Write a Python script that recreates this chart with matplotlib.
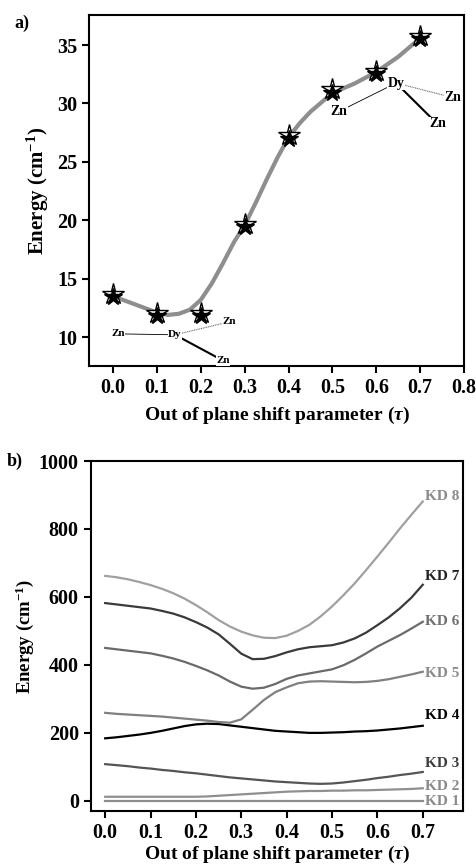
import numpy as np
import matplotlib
matplotlib.use("Agg")
import matplotlib.pyplot as plt
import matplotlib.transforms as mtransforms
from matplotlib.ticker import FormatStrFormatter

plt.rcParams['font.family'] = ['Liberation Serif', 'DejaVu Serif']
plt.rcParams['font.weight'] = 'bold'
plt.rcParams['axes.labelweight'] = 'bold'
plt.rcParams['mathtext.fontset'] = 'custom'
plt.rcParams['mathtext.rm'] = 'Liberation Serif:bold'
plt.rcParams['mathtext.bf'] = 'Liberation Serif:bold'
plt.rcParams['mathtext.it'] = 'Liberation Serif:italic:bold'

# panel a) data
tau = [0.0, 0.1, 0.2, 0.3, 0.4, 0.5, 0.6, 0.7]
barrier = [13.4, 11.8, 11.8, 19.4, 27.0, 30.9, 32.5, 35.5]
# smooth fitted curve
fit_tau = [0.0, 0.05, 0.1, 0.125, 0.15, 0.175, 0.2, 0.225, 0.25, 0.275, 0.3,
           0.325, 0.35, 0.375, 0.4, 0.425, 0.45, 0.475, 0.5, 0.55, 0.6, 0.65, 0.7]
fit_energy = [13.5, 12.8, 12.1, 11.9, 12.0, 12.35, 13.2, 14.6, 16.3, 18.1, 19.6,
              21.5, 23.5, 25.4, 27.1, 28.3, 29.3, 30.1, 30.9, 31.7, 32.7, 34.0, 35.6]

# schematic Dy-Zn3 fragments (label, tau, energy)
frag1 = [("Zn", 0.011, 10.28), ("Dy", 0.141, 10.2), ("Zn", 0.264, 11.3), ("Zn", 0.25, 8.0)]
frag2 = [("Zn", 0.514, 29.3), ("Dy", 0.645, 31.75), ("Zn", 0.775, 30.5), ("Zn", 0.739, 28.25)]

# panel b) data: Kramers doublets (cm-1)
kd_tau = [0.0, 0.025, 0.05, 0.075, 0.1, 0.125, 0.15, 0.175, 0.2, 0.225, 0.25, 0.275, 0.3,
          0.325, 0.35, 0.375, 0.4, 0.425, 0.45, 0.475, 0.5, 0.525, 0.55, 0.575, 0.6,
          0.625, 0.65, 0.675, 0.7]
kd1 = [0] * 29
kd2 = [12, 12, 12, 12, 12, 12, 12, 12, 12, 13, 15, 17, 19, 21, 23, 25, 27, 28, 29, 29,
       30, 30, 31, 31, 32, 33, 34, 35, 37]
kd3 = [108, 105, 102, 98, 95, 91, 88, 84, 81, 77, 73, 69, 66, 63, 60, 57, 55, 53, 51, 50,
       51, 54, 58, 62, 67, 71, 76, 80, 85]
kd4 = [184, 187, 191, 195, 200, 206, 213, 220, 225, 227, 226, 222, 218, 214, 210, 206, 204,
       202, 200, 200, 201, 202, 204, 205, 207, 210, 213, 217, 221]
kd5 = [259, 256, 254, 252, 250, 248, 245, 242, 239, 236, 232, 230, 240, 268, 297, 320, 334,
       346, 351, 352, 351, 350, 349, 350, 353, 358, 365, 372, 380]
kd6 = [450, 446, 442, 438, 434, 427, 419, 409, 397, 384, 369, 351, 336, 330, 333, 344, 359,
       369, 375, 381, 387, 399, 415, 434, 454, 471, 488, 507, 527]
kd7 = [582, 578, 574, 570, 566, 559, 551, 540, 526, 510, 490, 462, 433, 417, 418, 426, 437,
       446, 452, 455, 458, 466, 478, 495, 517, 540, 567, 598, 636]
kd8 = [662, 658, 652, 644, 635, 624, 611, 595, 576, 555, 532, 513, 498, 487, 480, 479, 486,
       500, 518, 543, 572, 605, 640, 679, 719, 760, 802, 842, 881]
kd_series = [kd1, kd2, kd3, kd4, kd5, kd6, kd7, kd8]
kd_names = ["KD 1", "KD 2", "KD 3", "KD 4", "KD 5", "KD 6", "KD 7", "KD 8"]
kd_label_y = [-3, 41, 110, 250, 375, 529, 660, 895]
kd_colors = ['#8c8c8c', '#8f8f8f', '#555555', '#000000', '#808080', '#6a6a6a', '#3a3a3a', '#a0a0a0']
kd_text_colors = ['#8a8a8a', '#8a8a8a', '#3c3c3c', '#000000', '#8a8a8a', '#707070', '#222222', '#8a8a8a']

fig = plt.figure(figsize=(4.76, 8.64), dpi=100)
ax1 = fig.add_axes([0.187, 0.576, 0.788, 0.407])
ax2 = fig.add_axes([0.1905, 0.0613, 0.7825, 0.4051])

# ---- panel a
ax1.plot(fit_tau, fit_energy, color='#8e8e8e', lw=3.0, solid_capstyle='round', zorder=2)
up = ax1.transData + mtransforms.ScaledTranslation(0, 2.5 / 72, fig.dpi_scale_trans)
ax1.plot(tau, barrier, ls='none', marker='*', ms=16, mfc='white', mec='black', mew=1.0,
         transform=up, zorder=3)
ax1.plot(tau, barrier, ls='none', marker='*', ms=13, mfc='black', mec='black', zorder=4)

for frag, small in ((frag1, 8), (frag2, 10)):
    lab = [f[0] for f in frag]
    fx = [f[1] for f in frag]
    fy = [f[2] for f in frag]
    # Zn-Dy (thin), Dy-Zn (dotted grey), Dy-Zn (thick wedge)
    ax1.plot([fx[0], fx[1]], [fy[0], fy[1]], color='black', lw=0.6, zorder=1)
    ax1.plot([fx[1], fx[2]], [fy[1], fy[2]], color='#777777', lw=0.8, ls=(0, (1, 0.6)), zorder=1)
    ax1.plot([fx[1], fx[3]], [fy[1], fy[3]], color='black', lw=1.5, zorder=1)
    for i in range(4):
        ax1.text(fx[i], fy[i], lab[i], ha='center', va='center', fontsize=small,
                 fontweight='bold', zorder=5,
                 bbox=dict(boxstyle='square,pad=0.05', fc='white', ec='none'))

ax1.set_xlim(-0.055, 0.8)
ax1.set_ylim(7.5, 37.6)
ax1.set_xticks([0.0, 0.1, 0.2, 0.3, 0.4, 0.5, 0.6, 0.7, 0.8])
ax1.set_yticks([10, 15, 20, 25, 30, 35])
ax1.set_xlabel(r'Out of plane shift parameter ($\tau$)', fontsize=14, labelpad=5)
ax1.set_ylabel(r'Energy (cm$^{-1}$)', fontsize=15, labelpad=4)
ax1.text(-0.2, 1.0, 'a)', transform=ax1.transAxes, fontsize=13, fontweight='bold', va='top')
ax1.xaxis.set_major_formatter(FormatStrFormatter('%.1f'))

# ---- panel b
for ys, name, ly, c, tc in zip(kd_series, kd_names, kd_label_y, kd_colors, kd_text_colors):
    ax2.plot(kd_tau, ys, color=c, lw=1.6)
    ax2.text(0.706, ly, name, color=tc, fontsize=11, fontweight='bold', va='center', ha='left',
             clip_on=False)

ax2.set_xlim(-0.032, 0.789)
ax2.set_ylim(-30, 1000)
ax2.set_xticks([0.0, 0.1, 0.2, 0.3, 0.4, 0.5, 0.6, 0.7])
ax2.set_yticks([0, 200, 400, 600, 800, 1000])
ax2.set_xlabel(r'Out of plane shift parameter ($\tau$)', fontsize=14, labelpad=1)
ax2.set_ylabel(r'Energy (cm$^{-1}$)', fontsize=13.5, labelpad=2)
ax2.text(-0.225, 1.0, 'b)', transform=ax2.transAxes, fontsize=13, fontweight='bold', va='center')
ax2.xaxis.set_major_formatter(FormatStrFormatter('%.1f'))

for ax in (ax1, ax2):
    for s in ax.spines.values():
        s.set_linewidth(1.5)
    ax.tick_params(direction='out', length=5, width=1.5, labelsize=14.5, top=False, right=False)
    for t in ax.get_xticklabels() + ax.get_yticklabels():
        t.set_fontweight('bold')

fig.savefig('out.png', dpi=100)
